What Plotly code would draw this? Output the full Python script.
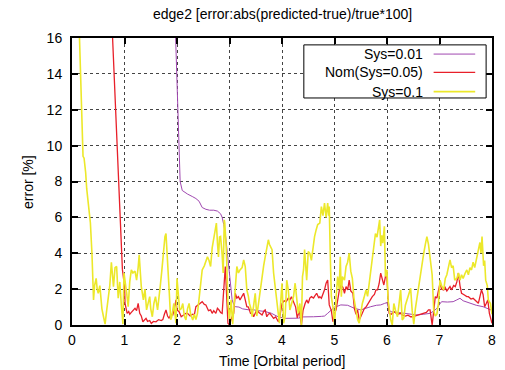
import plotly.graph_objects as go

# Sys=0.01
t_sys001 = [1.5, 1.9, 1.96, 1.99, 2.01, 2.03, 2.06, 2.1, 2.14, 2.2, 2.3, 2.36, 2.42, 2.48, 2.55,
            2.62, 2.7, 2.77, 2.83, 2.86, 2.89, 2.92, 2.96, 2.99, 3.02, 3.05, 3.08, 3.11, 3.18, 3.25,
            3.36, 3.45, 3.55, 3.68, 3.8, 3.88, 3.93, 4.06, 4.2, 4.31, 4.38, 4.43, 4.6, 4.75, 4.81,
            4.87, 4.94, 5.0, 5.06, 5.12, 5.25, 5.38, 5.5, 5.6, 5.69, 5.8, 5.88, 5.95, 6.0, 6.03,
            6.07, 6.2, 6.32, 6.45, 6.57, 6.7, 6.82, 6.9, 6.95, 7.0, 7.04, 7.15, 7.26, 7.33, 7.39,
            7.45, 7.58, 7.7, 7.83, 7.92, 7.98]
e_sys001 = [60.0, 22.0, 16.2, 14.0, 12.0, 10.0, 8.0, 7.5, 7.4, 7.3, 7.15, 7.05, 6.9, 6.55, 6.45,
            6.4, 6.4, 6.35, 6.2, 6.0, 5.6, 5.1, 4.0, 3.2, 2.2, 1.4, 1.15, 1.02, 1.0, 0.9,
            0.85, 0.85, 0.8, 0.75, 0.65, 0.5, 0.45, 0.37, 0.37, 0.38, 0.45, 0.46, 0.46, 0.48, 0.5,
            0.65, 0.84, 1.0, 1.05, 1.12, 1.1, 0.93, 0.84, 0.95, 1.02, 1.1, 1.12, 1.2, 1.25, 0.9,
            0.74, 0.7, 0.65, 0.6, 0.56, 0.6, 0.65, 0.8, 0.93, 1.15, 1.3, 1.28, 1.3, 1.4, 1.49,
            1.35, 1.21, 1.1, 1.02, 0.9, 0.84]

# Nom(Sys=0.05)
t_nom = [0.0, 0.5, 0.77, 0.8, 0.83, 0.86, 0.89, 0.9, 0.93, 0.96, 0.99, 1.0, 1.01, 1.03, 1.05,
         1.08, 1.1, 1.13, 1.17, 1.2, 1.23, 1.26, 1.29, 1.32, 1.35, 1.38, 1.41, 1.44, 1.48, 1.51,
         1.55, 1.6, 1.65, 1.7, 1.73, 1.76, 1.79, 1.82, 1.85, 1.88, 1.92, 1.95, 1.98, 2.0, 2.04,
         2.08, 2.12, 2.17, 2.2, 2.25, 2.3, 2.33, 2.36, 2.4, 2.44, 2.48, 2.52, 2.55, 2.6, 2.64,
         2.67, 2.7, 2.74, 2.77, 2.8, 2.83, 2.86, 2.89, 2.92, 2.94, 2.97, 3.0, 3.04, 3.08, 3.11,
         3.14, 3.17, 3.2, 3.24, 3.27, 3.3, 3.33, 3.36, 3.4, 3.43, 3.46, 3.49, 3.52, 3.56, 3.62,
         3.66, 3.68, 3.71, 3.74, 3.77, 3.8, 3.84, 3.88, 3.93, 3.96, 4.0, 4.04, 4.08, 4.12, 4.15,
         4.18, 4.22, 4.26, 4.29, 4.33, 4.37, 4.4, 4.44, 4.47, 4.5, 4.53, 4.56, 4.6, 4.62, 4.66,
         4.7, 4.72, 4.75, 4.78, 4.81, 4.84, 4.87, 4.9, 4.94, 4.97, 5.0, 5.03, 5.06, 5.09, 5.12,
         5.16, 5.19, 5.22, 5.25, 5.28, 5.31, 5.35, 5.38, 5.41, 5.44, 5.47, 5.5, 5.54, 5.57, 5.6,
         5.64, 5.69, 5.72, 5.76, 5.79, 5.82, 5.85, 5.88, 5.91, 5.94, 5.97, 5.99, 6.02, 6.04, 6.08,
         6.1, 6.14, 6.2, 6.26, 6.29, 6.35, 6.4, 6.45, 6.48, 6.52, 6.57, 6.62, 6.67, 6.7, 6.75,
         6.79, 6.82, 6.86, 6.89, 6.92, 6.95, 6.98, 7.01, 7.04, 7.08, 7.1, 7.14, 7.2, 7.23, 7.27,
         7.3, 7.33, 7.36, 7.39, 7.42, 7.46, 7.52, 7.55, 7.6, 7.64, 7.67, 7.71, 7.74, 7.77, 7.8,
         7.83, 7.86, 7.89, 7.92, 7.95, 7.97, 8.0]
e_nom = [90.0, 34.0, 16.2, 14.0, 12.0, 10.0, 8.0, 7.0, 5.3, 3.1, 2.4, 2.3, 1.2, 0.9, 0.65,
         0.75, 0.6, 0.7, 0.85, 0.93, 0.8, 1.21, 0.65, 0.5, 0.18, 0.3, 0.37, 0.2, 0.25, 0.09,
         0.2, 0.18, 0.3, 0.25, 0.3, 0.6, 0.84, 0.5, 0.37, 0.6, 0.56, 0.9, 1.4, 0.84, 0.74,
         0.46, 0.55, 0.65, 0.65, 0.5, 0.6, 0.56, 1.02, 1.1, 1.2, 1.3, 1.15, 1.12, 0.8, 0.84,
         0.65, 0.8, 0.65, 0.93, 0.84, 0.7, 0.65, 1.8, 3.26, 2.0, 0.1, 0.0, 0.4, 0.65, 1.77,
         1.5, 1.58, 1.4, 1.6, 1.77, 1.4, 1.02, 1.0, 0.65, 0.7, 0.46, 0.65, 0.84, 0.7, 0.56,
         0.8, 0.84, 0.46, 0.6, 0.65, 0.5, 0.37, 0.45, 0.18, 0.5, 1.2, 1.35, 1.3, 1.5, 1.4,
         1.58, 1.3, 1.0, 0.4, 0.8, 0.0, 0.8, 1.2, 1.4, 1.21, 1.5, 1.58, 1.5, 1.6, 1.77,
         1.5, 1.58, 1.49, 1.7, 1.96, 2.33, 2.51, 1.12, 0.8, 0.18, 0.65, 0.84, 1.4, 1.9, 2.23,
         2.1, 1.77, 2.14, 1.95, 2.51, 1.9, 1.77, 0.9, 0.6, 0.84, 0.28, 0.46, 0.8, 0.93, 1.0,
         1.2, 1.4, 1.58, 1.7, 1.96, 1.96, 2.3, 2.89, 2.5, 2.23, 2.7, 3.07, 1.5, 0.65, 0.6,
         0.65, 0.74, 0.6, 0.65, 0.56, 0.5, 0.55, 0.46, 0.46, 0.5, 0.56, 0.6, 0.65, 0.65, 0.7,
         0.84, 0.84, 0.0, 1.0, 1.58, 1.5, 1.96, 2.33, 2.0, 1.96, 2.14, 1.9, 2.14, 1.96, 2.2,
         2.14, 2.4, 2.89, 2.2, 1.77, 1.7, 1.58, 1.58, 1.45, 1.49, 1.4, 1.3, 1.21, 1.58, 1.96,
         1.7, 1.02, 1.2, 1.4, 0.65, 0.46, 0.1]

# Sys=0.1
t_sys01 = [0.0, 0.14, 0.16, 0.19, 0.21, 0.23, 0.24, 0.26, 0.28, 0.31, 0.35, 0.38, 0.41, 0.43,
           0.46, 0.48, 0.5, 0.53, 0.55, 0.57, 0.6, 0.63, 0.66, 0.69, 0.72, 0.75, 0.77, 0.79,
           0.82, 0.85, 0.88, 0.91, 0.94, 0.97, 0.99, 1.01, 1.04, 1.07, 1.1, 1.13, 1.16, 1.2,
           1.23, 1.26, 1.28, 1.3, 1.32, 1.36, 1.39, 1.42, 1.45, 1.48, 1.5, 1.53, 1.56, 1.59,
           1.63, 1.66, 1.68, 1.71, 1.73, 1.75, 1.77, 1.79, 1.81, 1.83, 1.85, 1.88, 1.9, 1.94,
           1.96, 1.98, 2.0, 2.02, 2.05, 2.08, 2.11, 2.14, 2.17, 2.2, 2.23, 2.26, 2.3, 2.33,
           2.36, 2.39, 2.42, 2.45, 2.48, 2.52, 2.55, 2.58, 2.61, 2.64, 2.67, 2.7, 2.73, 2.75,
           2.77, 2.79, 2.81, 2.83, 2.86, 2.88, 2.9, 2.91, 2.94, 2.97, 3.0, 3.03, 3.06, 3.09,
           3.11, 3.14, 3.17, 3.2, 3.24, 3.27, 3.3, 3.33, 3.36, 3.38, 3.41, 3.43, 3.46, 3.49,
           3.52, 3.55, 3.58, 3.62, 3.65, 3.68, 3.71, 3.74, 3.76, 3.78, 3.81, 3.84, 3.87, 3.9,
           3.93, 3.95, 3.98, 4.0, 4.03, 4.06, 4.09, 4.12, 4.15, 4.18, 4.22, 4.25, 4.28, 4.31,
           4.34, 4.37, 4.39, 4.41, 4.43, 4.47, 4.5, 4.53, 4.56, 4.59, 4.62, 4.65, 4.68, 4.72,
           4.75, 4.78, 4.81, 4.84, 4.87, 4.89, 4.9, 4.92, 4.94, 4.97, 5.0, 5.03, 5.06, 5.09,
           5.11, 5.13, 5.15, 5.19, 5.22, 5.25, 5.28, 5.31, 5.34, 5.37, 5.41, 5.44, 5.47, 5.5,
           5.53, 5.56, 5.6, 5.63, 5.66, 5.69, 5.72, 5.75, 5.78, 5.81, 5.84, 5.86, 5.88, 5.9,
           5.92, 5.93, 5.95, 5.97, 6.0, 6.02, 6.04, 6.07, 6.1, 6.13, 6.16, 6.2, 6.23, 6.26,
           6.29, 6.32, 6.35, 6.38, 6.42, 6.45, 6.48, 6.51, 6.54, 6.57, 6.6, 6.64, 6.67, 6.7,
           6.73, 6.76, 6.79, 6.82, 6.86, 6.89, 6.92, 6.95, 6.98, 7.01, 7.04, 7.08, 7.11, 7.14,
           7.17, 7.2, 7.23, 7.26, 7.29, 7.33, 7.36, 7.39, 7.42, 7.45, 7.49, 7.52, 7.55, 7.58,
           7.61, 7.64, 7.67, 7.71, 7.74, 7.77, 7.79, 7.81, 7.84, 7.86, 7.88, 7.91, 7.93, 7.95,
           7.97, 8.0]
e_sys01 = [30.0, 16.2, 14.0, 10.0, 9.4, 9.3, 9.1, 8.5, 7.6, 6.8, 5.7, 4.0, 1.4, 2.2,
           2.6, 2.0, 1.77, 2.2, 1.5, 0.9, 0.46, 0.05, 0.8, 1.4, 2.2, 3.5, 2.8, 2.14,
           3.2, 3.26, 1.5, 2.4, 1.1, 0.05, 2.9, 2.3, 1.8, 1.02, 2.4, 3.07, 2.9, 3.0,
           2.5, 3.2, 3.91, 3.0, 2.14, 1.4, 2.0, 0.84, 1.3, 1.58, 0.9, 0.46, 1.2, 1.58,
           0.84, 1.5, 2.14, 3.0, 3.8, 4.5, 4.93, 5.1, 3.8, 3.0, 1.96, 0.3, 0.46, 1.2,
           0.6, 0.1, 2.6, 2.0, 0.84, 0.9, 1.2, 0.5, 0.28, 0.9, 1.2, 0.6, 0.28, 0.6,
           0.3, 0.65, 1.58, 2.3, 3.07, 3.3, 3.63, 3.8, 3.6, 3.26, 4.3, 4.75, 5.3, 5.68,
           4.6, 3.8, 4.9, 4.93, 3.9, 2.9, 5.86, 5.68, 4.2, 1.21, 0.3, 1.4, 0.05, 1.5,
           2.14, 3.26, 2.9, 3.07, 3.2, 3.63, 3.26, 1.96, 1.6, 1.2, 0.9, 0.46, 1.1, 1.77,
           0.5, 1.2, 1.8, 2.9, 3.3, 3.8, 4.2, 4.75, 4.5, 4.4, 4.2, 2.9, 2.2, 1.4,
           0.9, 0.1, 1.5, 2.33, 0.1, 0.46, 2.5, 1.96, 0.84, 1.2, 1.6, 2.33, 1.4, 0.65,
           1.2, 0.0, 2.7, 3.07, 4.2, 2.5, 4.1, 4.0, 3.6, 4.3, 4.93, 5.3, 5.6, 5.68,
           6.6, 6.1, 6.8, 6.0, 6.8, 6.1, 6.6, 3.8, 1.58, 1.0, 0.0, 1.5, 2.7, 2.0,
           3.8, 1.58, 2.7, 2.5, 3.26, 3.5, 4.0, 3.0, 2.6, 1.5, 0.65, 0.3, 0.1, 0.8,
           1.2, 1.5, 1.96, 1.6, 2.33, 2.9, 3.8, 4.3, 5.1, 4.9, 5.68, 5.86, 4.4, 5.0,
           4.56, 5.1, 5.5, 2.7, 3.07, 1.4, 0.84, 0.3, 0.0, 1.2, 0.84, 0.46, 1.2, 1.96,
           0.28, 0.4, 1.1, 1.4, 1.8, 2.05, 0.8, 0.05, 0.9, 1.5, 2.2, 3.0, 3.5, 4.0,
           4.5, 4.93, 4.5, 3.6, 2.8, 0.8, 0.5, 0.6, 1.2, 2.5, 2.2, 1.96, 2.6, 2.8,
           3.2, 3.63, 3.2, 3.3, 2.5, 2.6, 2.9, 2.5, 2.8, 2.6, 2.9, 3.07, 2.8, 3.2,
           3.07, 3.5, 3.2, 3.85, 4.2, 4.6, 4.0, 4.93, 3.3, 3.6, 2.5, 2.2, 1.4, 1.3,
           1.2, 0.6]

series_names = ["Sys=0.01", "Nom(Sys=0.05)", "Sys=0.1"]
series_colors = ["#a048b0", "#e8202a", "#ece82a"]
series_widths = [1.0, 1.3, 1.6]

x_ticks = [0, 1, 2, 3, 4, 5, 6, 7, 8]
y_ticks = [0, 2, 4, 6, 8, 10, 12, 14, 16]

FONT = "Liberation Sans, Arial, Helvetica, sans-serif"

fig = go.Figure()
for name, tx, ey, col, w in zip(series_names, [t_sys001, t_nom, t_sys01],
                                [e_sys001, e_nom, e_sys01], series_colors, series_widths):
    fig.add_trace(go.Scatter(x=tx, y=ey, mode="lines", name=name,
                             line=dict(color=col, width=w), showlegend=False,
                             cliponaxis=True))

axis_common = dict(
    showline=True, linecolor="black", linewidth=2, mirror="allticks",
    ticks="inside", ticklen=6, tickwidth=2, tickcolor="black",
    showgrid=True, gridcolor="#444444", gridwidth=1, griddash="dot",
    zeroline=False, tickfont=dict(size=14, color="black", family=FONT),
)
fig.update_xaxes(range=[0, 8], tickvals=x_ticks, ticktext=[str(v) for v in x_ticks],
                 ticklabelstandoff=1, **axis_common)
fig.update_yaxes(range=[0, 16], tickvals=y_ticks, ticktext=[str(v) for v in y_ticks],
                 ticklabelstandoff=5, **axis_common)

# gnuplot-style key: text on the left, line sample on the right, boxed
key_rows = [0.944, 0.880, 0.813]
shapes = [dict(type="rect", xref="paper", yref="paper", x0=0.552, x1=0.986, y0=0.791, y1=0.976,
               line=dict(color="black", width=1), fillcolor="white", layer="above")]
annotations = []
for name, col, w, yr in zip(series_names, series_colors, series_widths, key_rows):
    shapes.append(dict(type="line", xref="paper", yref="paper", x0=0.861, x1=0.960, y0=yr, y1=yr,
                       line=dict(color=col, width=w), layer="above"))
    annotations.append(dict(text=name, xref="paper", yref="paper", x=0.840, y=yr,
                            xanchor="right", yanchor="middle", showarrow=False,
                            font=dict(size=14, color="black", family=FONT)))

annotations += [
    dict(text="edge2 [error:abs(predicted-true)/true*100]", xref="paper", yref="paper",
         x=0.5, y=1.084, xanchor="center", yanchor="middle", showarrow=False,
         font=dict(size=14, color="black", family=FONT)),
    dict(text="Time [Orbital period]", xref="paper", yref="paper", x=0.5, y=-0.127,
         xanchor="center", yanchor="middle", showarrow=False,
         font=dict(size=14, color="black", family=FONT)),
    dict(text="error [%]", xref="paper", yref="paper", x=-0.106, y=0.5, textangle=-90,
         xanchor="center", yanchor="middle", showarrow=False,
         font=dict(size=14, color="black", family=FONT)),
]

fig.update_layout(
    width=505, height=370,
    margin=dict(l=72, r=9, t=38, b=45),
    paper_bgcolor="white", plot_bgcolor="white",
    font=dict(family=FONT, size=14, color="black"),
    shapes=shapes, annotations=annotations, showlegend=False,
)

fig.write_html("out.html", config={"displayModeBar": False})
